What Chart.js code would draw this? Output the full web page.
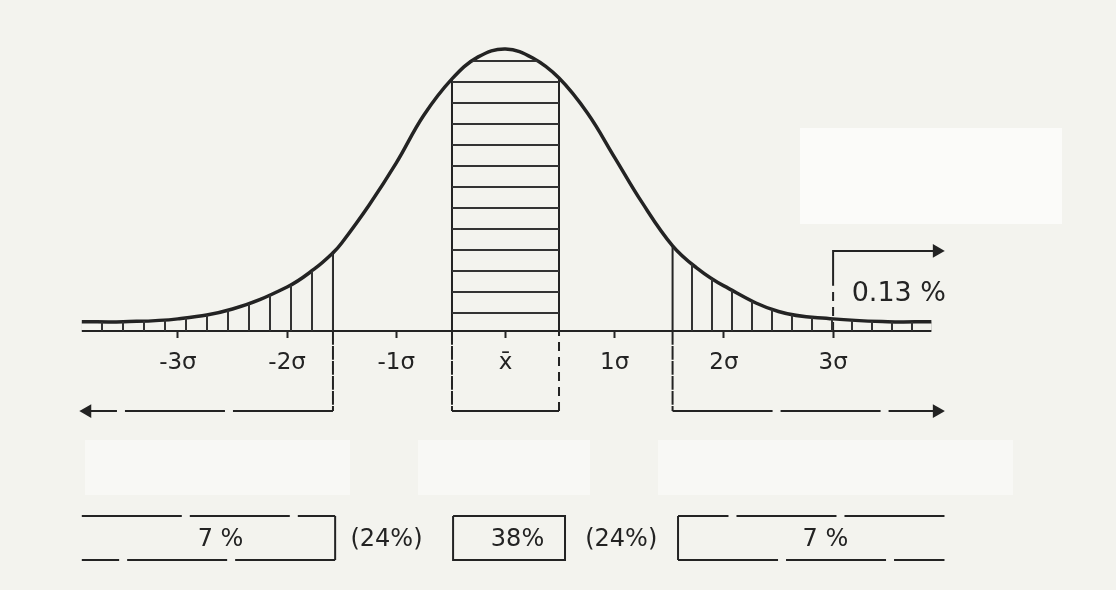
<!DOCTYPE html>
<html>
<head>
<meta charset="utf-8">
<script src="https://cdn.jsdelivr.net/npm/chart.js@4.4.1/dist/chart.umd.min.js"></script>
<style>
  html, body { margin: 0; padding: 0; background: #f3f3ee; }
  #wrap { position: relative; width: 1116px; height: 590px; }
  /* lighter patches of the scanned page */
  .patch { position: absolute; background: #fbfbf9; }
  .faint { background: #f8f8f5; }
  canvas { position: relative; }
</style>
</head>
<body>
<div id="wrap">
  <div class="patch" style="left:800px;top:128px;width:262px;height:96px"></div>
  <div class="patch faint" style="left:85px;top:440px;width:265px;height:55px"></div>
  <div class="patch faint" style="left:418px;top:440px;width:172px;height:55px"></div>
  <div class="patch faint" style="left:658px;top:440px;width:355px;height:55px"></div>
  <canvas id="bell"></canvas>
</div>
<script>
// bell curve: x in sigma units, height in % of the peak
const curveX = [-3.88, -3.5, -3, -2.5, -2, -1.75, -1.58, -1.5, -1.25, -1, -0.75, -0.49, -0.25, 0,
                0.25, 0.49, 0.75, 1, 1.25, 1.53, 1.75, 2, 2.5, 3, 3.5, 3.9];
const curveY = [3.3, 3.3, 4.3, 7.8, 15.6, 22, 27.7, 31.2, 44.6, 59.6, 76.4, 89.4, 97.2, 100,
                96.8, 89.7, 77.3, 61.5, 45.6, 30.2, 22.4, 16, 6.9, 4.3, 3.3, 3.3];

// axis ticks
const tickValues = [-3, -2, -1, 0, 1, 2, 3];
const tickLabels = ['-3σ', '-2σ', '-1σ', 'x̄', '1σ', '2σ', '3σ'];

// limits of the hatched zones and of the boxes under the chart
const bandEdges = [-1.58, -0.49, 0.49, 1.53];
const boxEdges = [-3.88, -1.56, -0.48, 0.545, 1.58, 4.02];
const rowLabels = ['7 %', '(24%)', '38%', '(24%)', '7 %'];
const rowLabelX = [-2.61, -1.09, 0.11, 1.06, 2.93];

const tailLabel = '0.13 %';
const tailMark = 3;

// levels (same units as curveY)
const arrowLevel = 28.4;
const bracketLevel = -28.4;
const boxTop = -65.6;
const boxBottom = -81.2;
const rowLabelY = -74.1;
const tailLabelX = 3.17;
const tailLabelY = 13.1;
const leftArrowEnd = -3.83;
const rightArrowEnd = 3.95;

const ink = '#232323';
const font = '"DejaVu Sans", "Liberation Sans", sans-serif';

const cv = document.getElementById('bell');
const c2d = cv.getContext('2d');

function hatch(w, h, draw) {
    const tile = document.createElement('canvas');
    tile.width = w; tile.height = h;
    const g = tile.getContext('2d');
    g.fillStyle = '#333';
    draw(g);
    return c2d.createPattern(tile, 'repeat');
}
const vLeft = hatch(21, 21, g => g.fillRect(17, 0, 2, 21));
const vRight = hatch(20, 20, g => g.fillRect(11, 0, 2, 20));
const hMid = hatch(21, 21, g => g.fillRect(0, 18, 21, 2));

const curvePts = curveX.map((x, i) => ({ x, y: curveY[i] }));
const heightAt = x => curveY[curveX.indexOf(x)];
const slice = (a, b) => curvePts.filter(p => p.x >= a && p.x <= b);
const first = curveX[0], last = curveX[curveX.length - 1];

const shortDash = [9, 6];
const longDash = [100, 8];

function fillSet(data, pattern) {
    return { data, fill: 'origin', backgroundColor: pattern, borderWidth: 0, pointRadius: 0,
             showLine: true, tension: 0.4 };
}
function lineSet(data, opts) {
    return Object.assign({ data, showLine: true, fill: false, borderColor: ink, borderWidth: 2,
                           pointRadius: 0, pointStyle: 'triangle', backgroundColor: ink,
                           borderCapStyle: 'butt' }, opts || {});
}
function dashed(list) {
    return { borderDash: ctx => list[ctx.p0DataIndex] || [] };
}

const e = bandEdges;
const datasets = [
    fillSet(slice(first, e[0]), vLeft),
    fillSet(slice(e[1], e[2]), hMid),
    fillSet(slice(e[3], last), vRight),
    // base line
    lineSet([{ x: first, y: 0 }, { x: last, y: 0 }]),
    // bell curve
    lineSet(curvePts, { borderWidth: 3.5, tension: 0.4 }),
    // left bracket and arrow
    lineSet([{ x: e[0], y: heightAt(e[0]) }, { x: e[0], y: 0 }, { x: e[0], y: bracketLevel },
             { x: leftArrowEnd, y: bracketLevel }],
            { segment: dashed([[], shortDash, longDash]), pointRadius: [0, 0, 0, 6], pointRotation: -90 }),
    // centre bracket
    lineSet([{ x: e[1], y: heightAt(e[1]) }, { x: e[1], y: 0 }, { x: e[1], y: bracketLevel },
             { x: e[2], y: bracketLevel }, { x: e[2], y: 0 }, { x: e[2], y: heightAt(e[2]) }],
            { segment: dashed([[], shortDash, [], shortDash, []]) }),
    // right bracket and arrow
    lineSet([{ x: e[3], y: heightAt(e[3]) }, { x: e[3], y: 0 }, { x: e[3], y: bracketLevel },
             { x: rightArrowEnd, y: bracketLevel }],
            { segment: dashed([[], shortDash, longDash]), pointRadius: [0, 0, 0, 6], pointRotation: 90 }),
    // 3 sigma marker
    lineSet([{ x: tailMark, y: 0 }, { x: tailMark, y: tailLabelY + 3 }, { x: tailMark, y: arrowLevel },
             { x: rightArrowEnd, y: arrowLevel }],
            { segment: dashed([shortDash, [], []]), pointRadius: [0, 0, 0, 6], pointRotation: 90 }),
    // boxes under the chart
    lineSet([{ x: boxEdges[0], y: boxTop }, { x: boxEdges[1], y: boxTop },
             { x: boxEdges[1], y: boxBottom }, { x: boxEdges[0], y: boxBottom }],
            { segment: dashed([longDash, [], longDash]) }),
    lineSet([{ x: boxEdges[2], y: boxTop }, { x: boxEdges[3], y: boxTop }, { x: boxEdges[3], y: boxBottom },
             { x: boxEdges[2], y: boxBottom }, { x: boxEdges[2], y: boxTop }]),
    lineSet([{ x: boxEdges[5], y: boxTop }, { x: boxEdges[4], y: boxTop },
             { x: boxEdges[4], y: boxBottom }, { x: boxEdges[5], y: boxBottom }],
            { segment: dashed([longDash, [], longDash]) })
];

const notes = {
    id: 'notes',
    afterDatasetsDraw(chart) {
        const { ctx, scales: { x, y } } = chart;
        ctx.save();
        ctx.fillStyle = ink;
        ctx.textBaseline = 'middle';
        ctx.textAlign = 'center';
        ctx.font = '24px ' + font;
        rowLabels.forEach((t, i) => {
            ctx.fillText(t, x.getPixelForValue(rowLabelX[i]), y.getPixelForValue(rowLabelY));
        });
        ctx.textAlign = 'left';
        ctx.font = '27px ' + font;
        ctx.fillText(tailLabel, x.getPixelForValue(tailLabelX), y.getPixelForValue(tailLabelY));
        ctx.restore();
    }
};

new Chart(cv, {
    type: 'scatter',
    data: { datasets },
    options: {
        responsive: true,
        maintainAspectRatio: false,
        animation: false,
        events: [],
        layout: { padding: 0, autoPadding: false },
        plugins: { legend: { display: false }, tooltip: { enabled: false } },
        scales: {
            x: {
                type: 'linear',
                min: -505.5 / 109.2,
                max: 610.5 / 109.2,
                position: { y: 0 },
                border: { display: false },
                grid: { drawOnChartArea: false, drawTicks: true, tickLength: 7, tickColor: ink, tickWidth: 2 },
                afterBuildTicks: s => { s.ticks = tickValues.map(v => ({ value: v })); },
                ticks: {
                    autoSkip: false, maxRotation: 0, padding: 11, color: ink,
                    font: { family: font, size: 23 },
                    callback: (v, i) => tickLabels[i]
                }
            },
            y: { type: 'linear', min: -259 / 2.82, max: 331 / 2.82, display: false }
        }
    },
    plugins: [notes]
});
</script>
</body>
</html>
